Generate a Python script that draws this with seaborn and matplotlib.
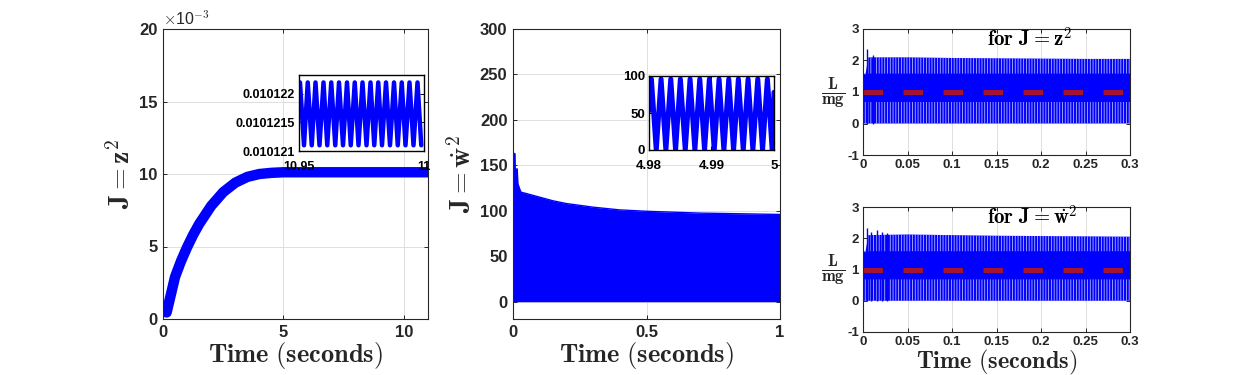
import matplotlib
matplotlib.use("Agg")
import matplotlib.pyplot as plt
import numpy as np
import pandas as pd
import seaborn as sns

# ---------------- data ----------------
# panel 1 : J = z^2
t_z2 = [0.0, 0.15, 0.3, 0.5, 0.75, 1.0, 1.25, 1.5, 2.0, 2.5, 3.0, 3.5, 4.0, 4.5, 5.0, 6.0, 8.0, 11.0]
J_z2 = [0.00070, 0.00045, 0.00150, 0.00290, 0.00400, 0.00495, 0.00580, 0.00655, 0.00780,
        0.00875, 0.00940, 0.00980, 0.01000, 0.01008, 0.01012, 0.01012, 0.01012, 0.01012]
z2_yticks = [0.0, 0.005, 0.010, 0.015, 0.020]
z2_yticklabels = ["0", "5", "10", "15", "20"]
z2_xticks = [0, 5, 10]

# inset 1 : extremes of the oscillation between 10.95 s and 11 s
ins1_t = [10.9504, 10.9520, 10.9535, 10.9551, 10.9566, 10.9582, 10.9598, 10.9613, 10.9629, 10.9645,
          10.9660, 10.9676, 10.9692, 10.9707, 10.9723, 10.9738, 10.9754, 10.9770, 10.9786, 10.9801,
          10.9817, 10.9832, 10.9848, 10.9864, 10.9880, 10.9895, 10.9911, 10.9926, 10.9942, 10.9958,
          10.9974, 10.9989]
ins1_J = [0.0101222, 0.0101211] * 16
ins1_xticks = [10.95, 11.0]
ins1_xticklabels = ["10.95", "11"]
ins1_yticks = [0.010121, 0.0101215, 0.010122]
ins1_yticklabels = ["0.010121", "0.0101215", "0.010122"]

# panel 2 : J = w_dot^2  (upper envelope of the dense oscillation, lower bound 0)
t_w2 = [0.0, 0.002, 0.007, 0.008, 0.016, 0.018, 0.025, 0.03, 0.05, 0.1, 0.15, 0.2, 0.3,
        0.4, 0.5, 0.6, 0.7, 0.8, 0.9, 1.0]
J_w2_upper = [97, 163, 163, 146, 146, 130, 124, 120.5, 119, 115, 111, 108, 104,
              101, 99.5, 98.5, 97.5, 97, 96.5, 96]
J_w2_lower = [0] * len(t_w2)
w2_xticks = [0, 0.5, 1]
w2_xticklabels = ["0", "0.5", "1"]
w2_yticks = [0, 50, 100, 150, 200, 250, 300]

# inset 2 : extremes of the oscillation between 4.98 s and 5 s
ins2_t = [4.98000, 4.98038, 4.98116, 4.98193, 4.98270, 4.98348, 4.98425, 4.98502, 4.98580,
          4.98657, 4.98734, 4.98812, 4.98889, 4.98966, 4.99044, 4.99121, 4.99198, 4.99276,
          4.99353, 4.99430, 4.99508, 4.99585, 4.99662, 4.99740, 4.99817, 4.99894, 4.99971, 5.00000]
ins2_J = [53, 96, 0, 96, 0, 96, 0, 96, 0, 96, 0, 96, 0, 96, 0, 96, 0, 96, 0, 96, 0, 96, 0, 96,
          0, 96, 0, 78]
ins2_xticks = [4.98, 4.99, 5.0]
ins2_xticklabels = ["4.98", "4.99", "5"]
ins2_yticks = [0, 50, 100]

# panel 3 : L/mg
t_L = [0.0, 0.003, 0.006, 0.05, 0.1, 0.15, 0.2, 0.25, 0.3]
L_upper_z2 = [1.55, 1.60, 2.10, 2.10, 2.08, 2.07, 2.06, 2.05, 2.05]
L_upper_w2 = [1.55, 1.60, 2.10, 2.12, 2.10, 2.08, 2.07, 2.06, 2.05]
L_core_hi = [1.55, 1.58, 1.60, 1.60, 1.60, 1.60, 1.60, 1.60, 1.60]
L_core_lo = [0.70, 0.70, 0.70, 0.70, 0.70, 0.70, 0.70, 0.70, 0.70]
spike_t_z2 = [0.0050, 0.0115]
spike_h_z2 = [2.35, 2.16]
spike_t_w2 = [0.0050, 0.0090, 0.0155, 0.0210, 0.0274]
spike_h_w2 = [2.33, 2.20, 2.26, 2.21, 2.16]
ref_t = [0.0, 0.3]
ref_L = [1.0, 1.0]
L_xticks = [0, 0.05, 0.1, 0.15, 0.2, 0.25, 0.3]
L_xticklabels = ["0", "0.05", "0.1", "0.15", "0.2", "0.25", "0.3"]
L_yticks = [-1, 0, 1, 2, 3]

# ---------------- style ----------------
sns.set_theme(style="white")
plt.rcParams["font.family"] = ["Liberation Sans", "DejaVu Sans"]
plt.rcParams["font.weight"] = "bold"
plt.rcParams["mathtext.fontset"] = "cm"
plt.rcParams["hatch.linewidth"] = 0.6
plt.rcParams["axes.axisbelow"] = True

BLUE = "#0000ff"
RED = "#A2142F"
DARK = "#262626"
GRID = "#dedede"

W, H = 1250, 375
fig = plt.figure(figsize=(W / 100, H / 100), dpi=100)
fig.patch.set_facecolor("white")


def px_axes(left, top, right, bottom):
    return fig.add_axes([left / W, (H - bottom) / H, (right - left) / W, (bottom - top) / H])


def style(ax, fs, gridx=True, gridy=True, color=DARK, lw=0.8, pad=4, xpad=None):
    for s in ax.spines.values():
        s.set_visible(True)
        s.set_color(color)
        s.set_linewidth(lw)
    ax.set_facecolor("white")
    ax.tick_params(direction="in", length=3, width=0.7, colors=color, labelsize=fs,
                   top=True, right=True, bottom=True, left=True, pad=pad,
                   labeltop=False, labelright=False)
    if xpad is not None:
        ax.tick_params(axis="x", pad=xpad)
    if gridx:
        ax.xaxis.grid(True, color=GRID, lw=0.7)
    if gridy:
        ax.yaxis.grid(True, color=GRID, lw=0.7)


LABEL_FS = 19
YLABEL_FS = 20

# ---------- panel 1 ----------
ax1 = px_axes(163, 29, 428, 319)
sns.lineplot(x=t_z2, y=J_z2, ax=ax1, color=BLUE, lw=7.5, sort=False, estimator=None,
             solid_capstyle="butt")
ax1.set_xlim(0, 11)
ax1.set_ylim(0, 0.02)
ax1.set_xticks(z2_xticks)
ax1.set_xticklabels([str(v) for v in z2_xticks])
ax1.set_yticks(z2_yticks)
ax1.set_yticklabels(z2_yticklabels)
style(ax1, 12)
ax1.set_xlabel(r"$\mathbf{Time\ (seconds)}$", fontsize=LABEL_FS, labelpad=0, color=DARK)
ax1.set_ylabel(r"$\mathbf{J} = \mathbf{z}^{\mathbf{2}}$", fontsize=YLABEL_FS, labelpad=2, color=DARK)
ax1.text(0.0, 1.005, r"$\times$10$^{\mathsf{-3}}$", transform=ax1.transAxes, ha="left", va="bottom",
         fontsize=11.5, fontweight="normal", color=DARK)

ins1 = px_axes(299, 75, 424, 151)
sns.lineplot(x=ins1_t, y=ins1_J, ax=ins1, color=BLUE, lw=3.2, sort=False, estimator=None)
ins1.set_xlim(10.95, 11.0)
ins1.set_ylim(0.010121, 0.01012233)
ins1.set_xticks(ins1_xticks)
ins1.set_xticklabels(ins1_xticklabels)
ins1.set_yticks(ins1_yticks)
ins1.set_yticklabels(ins1_yticklabels)
style(ins1, 9, gridx=False, gridy=False, color="black", lw=1.0, pad=3, xpad=7)
ins1.set_xlabel("")
ins1.set_ylabel("")

# ---------- panel 2 ----------
ax2 = px_axes(513, 29, 780, 319)
ax2.fill_between(t_w2, J_w2_lower, J_w2_upper, color=BLUE, lw=0)
sns.lineplot(x=t_w2, y=J_w2_upper, ax=ax2, color=BLUE, lw=1.0, sort=False, estimator=None)
ax2.set_xlim(0, 1)
ax2.set_ylim(-19, 300)
ax2.set_xticks(w2_xticks)
ax2.set_xticklabels(w2_xticklabels)
ax2.set_yticks(w2_yticks)
ax2.set_yticklabels([str(v) for v in w2_yticks])
style(ax2, 12)
ax2.set_xlabel(r"$\mathbf{Time\ (seconds)}$", fontsize=LABEL_FS, labelpad=0, color=DARK)
ax2.set_ylabel(r"$\mathbf{J} = \dot{\mathbf{w}}^{\mathbf{2}}$", fontsize=YLABEL_FS, labelpad=2, color=DARK)

ins2 = px_axes(649, 76, 774, 150)
sns.lineplot(x=ins2_t, y=ins2_J, ax=ins2, color=BLUE, lw=3.6, sort=False, estimator=None)
ins2.set_xlim(4.98, 5.0)
ins2.set_ylim(0, 100)
ins2.set_xticks(ins2_xticks)
ins2.set_xticklabels(ins2_xticklabels)
ins2.set_yticks(ins2_yticks)
ins2.set_yticklabels([str(v) for v in ins2_yticks])
style(ins2, 9.5, gridx=False, gridy=False, color="black", lw=1.0, pad=3, xpad=7)
ins2.set_xlabel("")
ins2.set_ylabel("")

# ---------- panel 3 ----------
def lift_panel(ax, upper, spike_t, spike_h, title):
    ax.fill_between(t_L, [0] * len(t_L), upper, facecolor=BLUE, edgecolor="#b4b4ff",
                    hatch="|" * 6, lw=0)
    ax.fill_between(t_L, L_core_lo, L_core_hi, color=BLUE, lw=0)
    ax.vlines(spike_t, 0, spike_h, color=BLUE, lw=1.0)
    sns.lineplot(x=ref_t, y=ref_L, ax=ax, color=RED, lw=3.6, sort=False, estimator=None,
                 dashes=False)
    ax.lines[-1].set_dashes((3.9, 4.1))
    ax.lines[-1].set_dash_capstyle("butt")
    ax.set_xlim(0, 0.3)
    ax.set_ylim(-1, 3)
    ax.set_xticks(L_xticks)
    ax.set_xticklabels(L_xticklabels)
    ax.set_yticks(L_yticks)
    ax.set_yticklabels([str(v) for v in L_yticks])
    style(ax, 9.5, gridx=True, gridy=False, pad=3)
    ax.set_ylabel(r"$\frac{\mathbf{L}}{\mathbf{mg}}$", fontsize=17, rotation=0,
                  labelpad=10, va="center", color=DARK)
    ax.text(0.465, 0.86, title, transform=ax.transAxes, ha="left", va="baseline",
            fontsize=15, color="black")


ax3 = px_axes(863, 29, 1130, 155)
lift_panel(ax3, L_upper_z2, spike_t_z2, spike_h_z2, r"$\mathbf{for\ J} = \mathbf{z}^{\mathbf{2}}$")
ax3.set_xlabel("")

ax4 = px_axes(863, 207, 1130, 332)
lift_panel(ax4, L_upper_w2, spike_t_w2, spike_h_w2,
           r"$\mathbf{for\ J} = \dot{\mathbf{w}}^{\mathbf{2}}$")
ax4.set_xlabel(r"$\mathbf{Time\ (seconds)}$", fontsize=17.5, labelpad=-0.5, color=DARK)

fig.savefig("out.png", dpi=100, facecolor="white")
